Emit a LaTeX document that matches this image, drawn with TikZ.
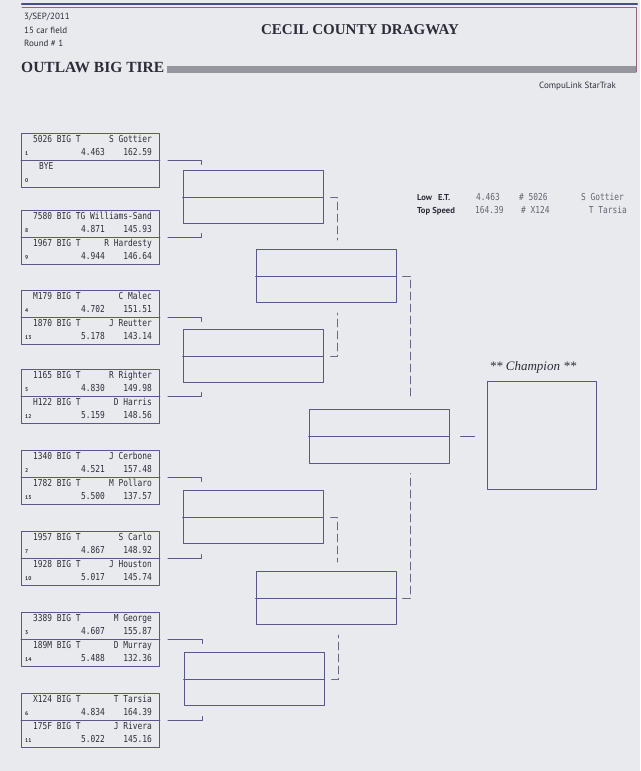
\documentclass[tikz,border=0pt]{standalone}
\usepackage{fontspec}
\setmainfont{Liberation Serif}
\newfontfamily\monofnt[FakeStretch=0.82]{DejaVu Sans Mono}
\newfontfamily\hdfnt{PT Sans}
\usepackage{xcolor}
\usetikzlibrary{calc,arrows.meta}
\definecolor{paper}{RGB}{233,234,238}
\definecolor{boxline}{RGB}{88,88,140}
\definecolor{dashcol}{RGB}{105,105,135}
\definecolor{ink}{RGB}{45,45,58}
\definecolor{statink}{RGB}{100,100,112}
\definecolor{barcol}{RGB}{150,150,160}
\definecolor{topblue}{RGB}{70,78,135}
\definecolor{topred}{RGB}{150,100,125}
\tikzset{
  every picture/.style={line join=round, line cap=round, >=Stealth},
  entrybox/.style={draw=boxline, line width=0.9pt, inner sep=0pt, minimum width=138, minimum height=54},
  roundbox/.style={draw=boxline, line width=0.9pt, inner sep=0pt, minimum width=140, minimum height=53},
  cartext/.style={font=\monofnt\fontsize{9.6}{10}\selectfont, text=ink, inner sep=0pt},
  stattext/.style={font=\monofnt\fontsize{9.6}{10}\selectfont, text=statink, inner sep=0pt},
  seedtext/.style={font=\hdfnt\bfseries\fontsize{5.5}{6}\selectfont, text=ink, inner sep=0pt},
  hdtext/.style={font=\hdfnt\fontsize{9}{10}\selectfont, text=ink, inner sep=0pt},
  hdbold/.style={font=\hdfnt\bfseries\fontsize{8.6}{10}\selectfont, text=ink, inner sep=0pt},
  bracket/.style={draw=boxline, line width=0.8pt},
  feed/.style={draw=dashcol, line width=0.8pt, dash pattern=on 8pt off 4pt},
}

\begin{document}
\begin{tikzpicture}[x=1pt,y=-1pt]
\useasboundingbox (0,0) rectangle (640,771);
\fill[paper] (0,0) rectangle (640,771);
\draw[topblue,line width=2.2pt] (22,4.2) -- (637,4.2);
\draw[topred,line width=0.7pt] (22,7.5) -- (636,7.5) -- (636,72);
\node[hdtext,anchor=base west] (date) at (24,19.5) {3/SEP/2011};
\node[hdtext,anchor=base west] (field) at (24,33) {15 car field};
\node[hdtext,anchor=base west] (rnd) at (24,46.5) {Round \# 1};
\node[font=\bfseries\fontsize{15}{17}\selectfont,text=ink,inner sep=0pt,anchor=base] (track) at (360,34) {CECIL COUNTY DRAGWAY};
\node[font=\bfseries\fontsize{15.5}{17}\selectfont,text=ink,inner sep=0pt,anchor=base west] (cls) at (21,72) {OUTLAW BIG TIRE};
\fill[barcol] (167,66) rectangle (636,73);
\node[hdtext,anchor=base east] (soft) at (616,88) {CompuLink StarTrak};

\node[hdbold,anchor=base west] (lowlbl) at (417,200) {Low\hspace{6pt}E.T.};
\node[hdbold,anchor=base west] (toplbl) at (417,213) {Top Speed};
\node[stattext,anchor=base west] (lowet) at (476,200) {4.463};
\node[stattext,anchor=base west] (topspd) at (475,213) {164.39};
\node[stattext,anchor=base west] (lowcar) at (519,200) {\# 5026};
\node[stattext,anchor=base west] (topcar) at (521,213) {\# X124};
\node[stattext,anchor=base east] (lowdrv) at (624,200) {S Gottier};
\node[stattext,anchor=base east] (topdrv) at (627,213) {T Tarsia};

\foreach \t [count=\i] in {133,210,290,369,450,531,612,693}
{
  \node[entrybox,anchor=north west] (q\i) at (21,\t) {};
  \draw[boxline,line width=0.9pt] (q\i.west) -- (q\i.east);
}
\foreach \hy/\car/\drv/\sd/\et/\spd [count=\k] in {
  133/5026 BIG T/S Gottier/1/4.463/162.59,
  210/7580 BIG TG/Williams-Sand/8/4.871/145.93,
  237/1967 BIG T/R Hardesty/9/4.944/146.64,
  290/M179 BIG T/C Malec/4/4.702/151.51,
  317/1870 BIG T/J Reutter/13/5.178/143.14,
  369/1165 BIG T/R Righter/5/4.830/149.98,
  396/H122 BIG T/D Harris/12/5.159/148.56,
  450/1340 BIG T/J Cerbone/2/4.521/157.48,
  477/1782 BIG T/M Pollaro/15/5.500/137.57,
  531/1957 BIG T/S Carlo/7/4.867/148.92,
  558/1928 BIG T/J Houston/10/5.017/145.74,
  612/3389 BIG T/M George/3/4.607/155.87,
  639/189M BIG T/D Murray/14/5.488/132.36,
  693/X124 BIG T/T Tarsia/6/4.834/164.39,
  720/175F BIG T/J Rivera/11/5.022/145.16}
{
  \node[cartext,anchor=base west] (c\k) at (33,\hy+9.5) {\car};
  \node[cartext,anchor=base east] (d\k) at (152,\hy+9.5) {\drv};
  \node[seedtext,anchor=base west] (n\k) at (25,\hy+22.5) {\sd};
  \node[cartext,anchor=base east] (e\k) at (105,\hy+22.5) {\et};
  \node[cartext,anchor=base east] (v\k) at (152,\hy+22.5) {\spd};
}
\node[cartext,anchor=base west] (bye) at (39,169.5) {BYE};
\node[seedtext,anchor=base west] (byeseed) at (25,182.5) {0};

\node[roundbox] (r1) at (253,197) {};
\node[roundbox] (r2) at (253,356) {};
\node[roundbox] (r3) at (253,517) {};
\node[roundbox] (r4) at (254,679) {};
\node[roundbox] (s1) at (326,276) {};
\node[roundbox] (s2) at (326,598) {};
\node[roundbox,minimum height=54] (fin) at (379,436) {};
\foreach \b in {r1,r2,r3,r4,s1,s2,fin}
  \draw[boxline,line width=0.9pt] (\b.west) -- (\b.east);
\node[draw=boxline,line width=0.9pt,inner sep=0pt,minimum width=109,minimum height=108] (champ) at (541.5,435) {};
\node[font=\itshape\fontsize{13}{15}\selectfont,text=ink,inner sep=0pt,anchor=base] (champlbl) at (533,370) {** Champion **};

\foreach \i/\j in {1/1,3/2,5/3,7/4}
  \draw[bracket] ($(q\i.east)+(8,0)$) -- ($(q\i.east -| r\j.west)+(19,0)$) -- ++(0,4);
\foreach \i/\j in {2/1,4/2,6/3,8/4}
  \draw[bracket] ($(q\i.east)+(8,0)$) -- ($(q\i.east -| r\j.west)+(19,0)$) -- ++(0,-4);

\draw[feed] ($(r1.east)+(7,0)$) -- ($(r1.east)+(14,0)$) -- ($(s1.north -| r1.east)+(14,-9)$);
\draw[feed] ($(r2.east)+(7,0)$) -- ($(r2.east)+(14,0)$) -- ($(s1.south -| r2.east)+(14,10)$);
\draw[feed] ($(r3.east)+(7,0)$) -- ($(r3.east)+(14,0)$) -- ($(s2.north -| r3.east)+(14,-9)$);
\draw[feed] ($(r4.east)+(7,0)$) -- ($(r4.east)+(14,0)$) -- ($(s2.south -| r4.east)+(14,10)$);
\draw[feed] ($(s1.east)+(6,0)$) -- ($(s1.east)+(14,0)$) -- ($(fin.north -| s1.east)+(14,-9)$);
\draw[feed] ($(s2.east)+(6,0)$) -- ($(s2.east)+(14,0)$) -- ($(fin.south -| s2.east)+(14,10)$);
\draw[bracket] ($(fin.east)+(11,0)$) -- ($(fin.east -| champ.west)+(-12,0)$);
\end{tikzpicture}
\end{document}
